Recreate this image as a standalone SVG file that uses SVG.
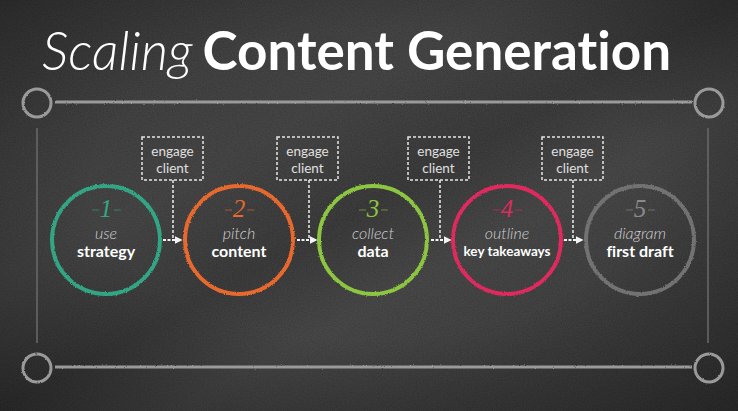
<svg xmlns="http://www.w3.org/2000/svg" width="738" height="411" viewBox="0 0 738 411">
  <defs>
    <style>
      .frame { fill: none; stroke: #9a9a9a; stroke-width: 3; }
      .vline { fill: none; stroke: #6a6a6a; stroke-width: 1.5; }
      .ring { fill: none; stroke-width: 4; filter: url(#chalk); }
      .num { font-family: "Liberation Serif", "DejaVu Serif", serif; font-style: italic; font-size: 25px; text-anchor: middle; }
      .dash { stroke-width: 1; opacity: 0.6; }
      .verb { font-family: Lato, "Open Sans", sans-serif; font-style: italic; font-weight: 300; font-size: 16px; fill: #cfcfcf; text-anchor: middle; }
      .noun { font-family: Lato, "Open Sans", sans-serif; font-weight: 700; font-size: 16px; fill: #ffffff; text-anchor: middle; font-variant-ligatures: none; }
      .small { font-size: 13.5px; }
      .box { fill: none; stroke: #e6e6e6; stroke-width: 1.5; stroke-dasharray: 3 2; }
      .boxtxt { font-family: Lato, "Open Sans", sans-serif; font-size: 13.5px; fill: #e0e0e0; text-anchor: middle; }
      .link { fill: none; stroke: #f0f0f0; stroke-width: 1.5; stroke-dasharray: 3 2; }
      .arrow { fill: none; stroke: #f4f4f4; stroke-width: 2; stroke-dasharray: 3 1.5; }
    </style>
    <filter id="chalk" x="-10%" y="-10%" width="120%" height="120%">
      <feTurbulence type="fractalNoise" baseFrequency="0.9" numOctaves="2" seed="3" result="n"/>
      <feDisplacementMap in="SourceGraphic" in2="n" scale="2.5" xChannelSelector="R" yChannelSelector="G"/>
    </filter>
    <filter id="chalkU" filterUnits="userSpaceOnUse" x="0" y="0" width="738" height="411">
      <feTurbulence type="fractalNoise" baseFrequency="0.9" numOctaves="2" seed="5" result="n"/>
      <feDisplacementMap in="SourceGraphic" in2="n" scale="2" xChannelSelector="R" yChannelSelector="G"/>
    </filter>
    <filter id="grain" x="0" y="0" width="100%" height="100%">
      <feTurbulence type="fractalNoise" baseFrequency="0.8" numOctaves="3" seed="7" result="n"/>
      <feColorMatrix in="n" type="matrix" values="0 0 0 0 1  0 0 0 0 1  0 0 0 0 1  0 0 0 0.09 0"/>
    </filter>
    <linearGradient id="streak" x1="0" y1="0" x2="1" y2="1">
      <stop offset="0" stop-color="#ffffff" stop-opacity="0"/>
      <stop offset="0.35" stop-color="#ffffff" stop-opacity="0.05"/>
      <stop offset="0.5" stop-color="#ffffff" stop-opacity="0.0"/>
      <stop offset="0.62" stop-color="#ffffff" stop-opacity="0.06"/>
      <stop offset="0.8" stop-color="#ffffff" stop-opacity="0.02"/>
      <stop offset="1" stop-color="#ffffff" stop-opacity="0"/>
    </linearGradient>
    <radialGradient id="vig" cx="0.5" cy="0.45" r="0.75">
      <stop offset="0.5" stop-color="#000" stop-opacity="0"/>
      <stop offset="1" stop-color="#000" stop-opacity="0.35"/>
    </radialGradient>
    <marker id="ah" viewBox="0 0 10 10" refX="8" refY="5" markerWidth="4" markerHeight="4" orient="auto" markerUnits="strokeWidth">
      <path d="M0,0 L10,5 L0,10 z" fill="#f4f4f4"/>
    </marker>
  </defs>

  <g id="background">
    <rect width="738" height="411" fill="#2f2f2f"/>
    <rect width="738" height="411" fill="url(#streak)"/>
    <rect width="738" height="411" filter="url(#grain)"/>
    <rect width="738" height="411" fill="url(#vig)"/>
  </g>

  <g id="title">
    <text x="42" y="70" font-family="Lato, 'Open Sans', sans-serif" font-size="53" fill="#ffffff" style="font-variant-ligatures: none"><tspan font-style="italic" font-weight="300">Scaling</tspan><tspan font-weight="700" dx="10">Content Generation</tspan></text>
  </g>

  <g id="frame" filter="url(#chalkU)">
    <line class="frame" x1="55" y1="102" x2="692" y2="102"/>
    <line class="frame" x1="55" y1="367" x2="692" y2="367"/>
    <circle class="frame" cx="37" cy="103" r="14"/>
    <circle class="frame" cx="709" cy="103" r="14"/>
    <circle class="frame" cx="37" cy="368" r="14"/>
    <circle class="frame" cx="709" cy="368" r="14"/>
  </g>
  <g id="sides">
    <line class="vline" x1="37" y1="128" x2="37" y2="343"/>
    <line class="vline" x1="708" y1="128" x2="708" y2="343"/>
  </g>

  <g id="node1">
    <circle class="ring" cx="106" cy="240" r="54" stroke="#33a684"/>
    <line class="dash" x1="92" y1="210" x2="99" y2="210" stroke="#33a684"/>
    <line class="dash" x1="114" y1="210" x2="121" y2="210" stroke="#33a684"/>
    <text class="num" x="106" y="217" fill="#33a684">1</text>
    <text class="verb" x="106" y="239">use</text>
    <text class="noun" x="106" y="257">strategy</text>
  </g>

  <g id="node2">
    <circle class="ring" cx="239" cy="240" r="54" stroke="#e8692e"/>
    <line class="dash" x1="225" y1="210" x2="232" y2="210" stroke="#e8692e"/>
    <line class="dash" x1="247" y1="210" x2="254" y2="210" stroke="#e8692e"/>
    <text class="num" x="239" y="217" fill="#e8692e">2</text>
    <text class="verb" x="239" y="239">pitch</text>
    <text class="noun" x="239" y="257">content</text>
  </g>

  <g id="node3">
    <circle class="ring" cx="373" cy="240" r="54" stroke="#8cc540"/>
    <line class="dash" x1="359" y1="210" x2="366" y2="210" stroke="#8cc540"/>
    <line class="dash" x1="381" y1="210" x2="388" y2="210" stroke="#8cc540"/>
    <text class="num" x="373" y="217" fill="#8cc540">3</text>
    <text class="verb" x="373" y="239">collect</text>
    <text class="noun" x="373" y="257">data</text>
  </g>

  <g id="node4">
    <circle class="ring" cx="507" cy="240" r="54" stroke="#de2a5e"/>
    <line class="dash" x1="493" y1="210" x2="500" y2="210" stroke="#de2a5e"/>
    <line class="dash" x1="515" y1="210" x2="522" y2="210" stroke="#de2a5e"/>
    <text class="num" x="507" y="217" fill="#de2a5e">4</text>
    <text class="verb" x="507" y="239">outline</text>
    <text class="noun small" x="507" y="256">key takeaways</text>
  </g>

  <g id="node5">
    <circle class="ring" cx="640" cy="240" r="54" stroke="#727272"/>
    <line class="dash" x1="626" y1="210" x2="633" y2="210" stroke="#8a8a8a"/>
    <line class="dash" x1="648" y1="210" x2="655" y2="210" stroke="#8a8a8a"/>
    <text class="num" x="640" y="217" fill="#8a8a8a">5</text>
    <text class="verb" x="640" y="239">diagram</text>
    <text class="noun" x="640" y="257">first draft</text>
  </g>

  <g id="engage1">
    <rect class="box" x="142" y="137" width="61" height="43"/>
    <text class="boxtxt" x="172.5" y="156">engage</text>
    <text class="boxtxt" x="172.5" y="173">client</text>
  </g>
  <g id="engage2">
    <rect class="box" x="277" y="137" width="61" height="43"/>
    <text class="boxtxt" x="307.5" y="156">engage</text>
    <text class="boxtxt" x="307.5" y="173">client</text>
  </g>
  <g id="engage3">
    <rect class="box" x="408" y="137" width="61" height="43"/>
    <text class="boxtxt" x="438.5" y="156">engage</text>
    <text class="boxtxt" x="438.5" y="173">client</text>
  </g>
  <g id="engage4">
    <rect class="box" x="542" y="137" width="61" height="43"/>
    <text class="boxtxt" x="572.5" y="156">engage</text>
    <text class="boxtxt" x="572.5" y="173">client</text>
  </g>

  <g id="connectors">
    <line class="link" x1="173" y1="180" x2="173" y2="240"/>
    <line class="arrow" x1="163" y1="240" x2="181" y2="240" marker-end="url(#ah)"/>
    <line class="link" x1="309" y1="180" x2="309" y2="240"/>
    <line class="arrow" x1="297" y1="240" x2="316" y2="240" marker-end="url(#ah)"/>
    <line class="link" x1="440" y1="180" x2="440" y2="240"/>
    <line class="arrow" x1="431" y1="240" x2="450" y2="240" marker-end="url(#ah)"/>
    <line class="link" x1="573" y1="180" x2="573" y2="240"/>
    <line class="arrow" x1="564" y1="240" x2="582" y2="240" marker-end="url(#ah)"/>
  </g>
</svg>
